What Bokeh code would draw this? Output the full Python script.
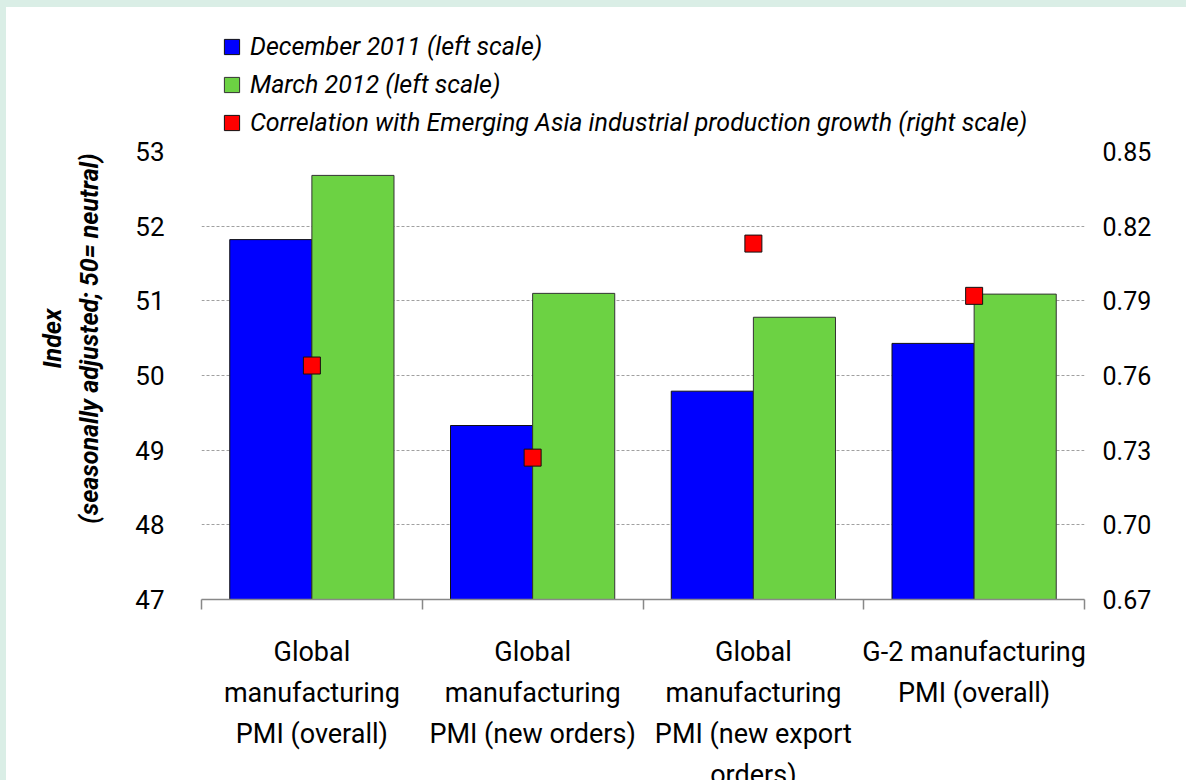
import numpy as np
from bokeh.plotting import figure
from bokeh.layouts import column
from bokeh.models import (ColumnDataSource, Range1d, LinearAxis, FixedTicker, NumeralTickFormatter,
                          Legend, LegendItem, LinearScale)
from bokeh.transform import dodge
from bokeh.embed import file_html
from bokeh.resources import INLINE

# ---- data ----
categories = ["Global manufacturing PMI (overall)",
              "Global manufacturing PMI (new orders)",
              "Global manufacturing PMI (new export orders)",
              "G-2 manufacturing PMI (overall)"]
category_labels = ["Global\nmanufacturing\nPMI (overall)",
                   "Global\nmanufacturing\nPMI (new orders)",
                   "Global\nmanufacturing\nPMI (new export\norders)",
                   "G-2 manufacturing\nPMI (overall)"]
dec_2011 = [51.82, 49.33, 49.79, 50.43]
mar_2012 = [52.68, 51.10, 50.78, 51.09]
correlation = [0.764, 0.727, 0.813, 0.792]
left_ticks = [47, 48, 49, 50, 51, 52, 53]
right_ticks = [0.67, 0.70, 0.73, 0.76, 0.79, 0.82, 0.85]
series_names = ["December 2011 (left scale)", "March 2012 (left scale)",
                "Correlation with Emerging Asia industrial production growth (right scale)"]
y_title = ["Index", "(seasonally adjusted; 50= neutral)"]

FONT = "Roboto"
BLUE = "#0000ff"
GREEN = "#6cd243"
RED = "#ff0000"
FILLS = [BLUE, GREEN, RED]
EDGES = ["#111111", "#333333", "#111111"]

n = len(categories)
centers = [i + 0.5 for i in range(n)]   # category slot centres on a 0..n axis
src = ColumnDataSource(dict(x=centers, cat=categories, dec=dec_2011, mar=mar_2012, corr=correlation,
                            base=[left_ticks[0]] * n))

BL, BR, FW = 195, 102, 883

# ---------------- legend strip (separate figure above the chart) ----------------
leg = figure(frame_width=FW, frame_height=130, x_range=Range1d(0, 1), y_range=Range1d(0, 1),
             min_border_left=BL, min_border_right=BR, min_border_top=0, min_border_bottom=0,
             output_backend="svg", toolbar_location=None, x_axis_location=None, y_axis_location=None,
             background_fill_color="white", border_fill_color="white", outline_line_color=None)
leg.xgrid.visible = False
leg.ygrid.visible = False
swatches = [leg.vbar(x=[-5], top=[-5], bottom=[-6], width=0.1, fill_color=f, line_color=e, line_width=1)
            for f, e in zip(FILLS, EDGES)]
legend = Legend(items=[LegendItem(label=s, renderers=[r]) for s, r in zip(series_names, swatches)],
                location=(21, 0), orientation="vertical")
legend.label_text_font = FONT
legend.label_text_font_size = "25px"
legend.label_text_font_style = "italic"
legend.label_text_color = "black"
legend.glyph_width = 19
legend.glyph_height = 19
legend.label_standoff = 9
legend.label_height = 19
legend.spacing = 9
legend.padding = 0
legend.margin = 0
legend.border_line_color = None
legend.background_fill_alpha = 0
leg.add_layout(legend, "center")

# ---------------- main chart ----------------
p = figure(x_range=Range1d(0, n), y_range=Range1d(left_ticks[0], left_ticks[-1]),
           frame_width=FW, frame_height=448,
           min_border_left=BL, min_border_right=BR, min_border_top=14, min_border_bottom=150,
           output_backend="svg", toolbar_location=None,
           x_axis_location=None, y_axis_location=None,
           background_fill_color="white", border_fill_color="white", outline_line_color=None)
p.extra_y_ranges = {"r": Range1d(right_ticks[0], right_ticks[-1])}
p.extra_y_scales = {"r": LinearScale()}

# grid
p.xgrid.visible = False
p.ygrid.ticker = FixedTicker(ticks=left_ticks)
p.ygrid.grid_line_color = "#a0a0a0"
p.ygrid.grid_line_dash = "3 2"
p.ygrid.grid_line_width = 1

# bars
bw = 0.372
p.vbar(x=dodge("x", -bw / 2), top="dec", bottom="base", width=bw,
       source=src, fill_color=BLUE, line_color=EDGES[0], line_width=1)
p.vbar(x=dodge("x", bw / 2), top="mar", bottom="base", width=bw,
       source=src, fill_color=GREEN, line_color=EDGES[1], line_width=1)
# correlation markers (right scale)
p.scatter(x="x", y="corr", source=src, y_range_name="r", marker="square", size=17,
          fill_color=RED, line_color=EDGES[2], line_width=1)

# left axis (with two-line title; NBSP padding lifts it above the frame centre)
pad = "\u00a0" * 12
yl = LinearAxis(ticker=FixedTicker(ticks=left_ticks), formatter=NumeralTickFormatter(format="0"))
yl.axis_line_color = None
yl.major_tick_line_color = None
yl.minor_tick_line_color = None
yl.major_label_standoff = 31
yl.major_label_text_font = FONT
yl.major_label_text_font_size = "26px"
yl.major_label_text_color = "black"
yl.axis_label = "\n".join(pad + t for t in y_title)
yl.axis_label_text_font = FONT
yl.axis_label_text_font_size = "25px"
yl.axis_label_text_font_style = "bold italic"
yl.axis_label_text_color = "black"
yl.axis_label_text_line_height = 1.3
yl.axis_label_standoff = 28
p.add_layout(yl, "left")

# right axis
yr = LinearAxis(y_range_name="r", ticker=FixedTicker(ticks=right_ticks),
                formatter=NumeralTickFormatter(format="0.00"))
yr.axis_line_color = None
yr.major_tick_line_color = None
yr.minor_tick_line_color = None
yr.major_label_standoff = 12
yr.major_label_text_font = FONT
yr.major_label_text_font_size = "25px"
yr.major_label_text_color = "black"
p.add_layout(yr, "right")

# bottom axis with boundary ticks
xb = LinearAxis(ticker=FixedTicker(ticks=list(range(n + 1))))
xb.axis_line_color = "#888888"
xb.axis_line_width = 1.5
xb.major_tick_line_color = "#888888"
xb.major_tick_line_width = 1.5
xb.major_tick_in = 0
xb.major_tick_out = 10
xb.minor_tick_line_color = None
xb.major_label_text_font_size = "1px"
xb.major_label_text_alpha = 0
xb.major_label_standoff = 0
p.add_layout(xb, "below")

# category labels
xc = LinearAxis(ticker=FixedTicker(ticks=centers))
xc.axis_line_color = None
xc.major_tick_line_color = None
xc.minor_tick_line_color = None
xc.major_label_overrides = dict(zip(centers, category_labels))
xc.major_label_text_font = FONT
xc.major_label_text_font_size = "27px"
xc.major_label_text_line_height = 1.29
xc.major_label_text_color = "black"
xc.major_label_standoff = 20
xc.major_label_orientation = "horizontal"
p.add_layout(xc, "below")

layout = column(leg, p, spacing=0)
html = file_html(layout, INLINE)
html = html.replace("</head>",
                    "<style>html{background:white;overflow:hidden;}"
                    "body{background:white;overflow:hidden;padding:0 !important;"
                    "border-top:7px solid #daeee6;border-left:6px solid #daeee6;}</style></head>", 1)
open("out.html", "w").write(html)
